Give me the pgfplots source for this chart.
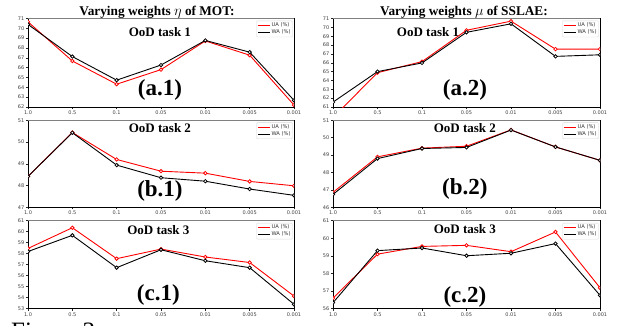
\documentclass[border=0pt]{standalone}
\usepackage{pgfplots}
\pgfplotsset{compat=1.18}
\usepackage{fontspec}
\setmainfont{Liberation Serif}
\newfontfamily\dejavu{DejaVu Sans}

\pgfplotsset{
  sub/.style={
    scale only axis,
    xmin=0, xmax=6,
    xtick={0,1,2,3,4,5,6},
    xticklabels={1.0,0.5,0.1,0.05,0.01,0.005,0.001},
    ytick distance=1,
    tick align=outside,
    major tick length=2pt,
    xtick pos=bottom, ytick pos=left,
    tick style={black!85, line width=0.5pt},
    tick label style={font=\dejavu\fontsize{5}{5}\selectfont, text=black!75},
    xticklabel style={inner sep=1.5pt},
    yticklabel style={inner sep=1.5pt},
    /pgf/number format/assume math mode=true,
    axis line style={line width=0.8pt, black},
    clip marker paths=true,
    legend style={at={(0.995,0.975)}, anchor=north east, draw=black!15, fill=white,
      rounded corners=1pt, font=\dejavu\fontsize{5.2}{6}\selectfont, inner sep=1.2pt,
      nodes={inner sep=0.7pt}, row sep=0pt, text=black!80},
    legend cell align=left,
    legend image code/.code={\draw[#1, line width=1.1pt] (0pt,0pt) -- (12pt,0pt);},
    every axis plot/.append style={line width=0.9pt, mark=*, mark size=1.7pt, mark options={fill=white, solid, line width=0.8pt}},
  },
}
\tikzset{
  ua/.style={red},
  wa/.style={black},
  lbl/.style={font=\bfseries\fontsize{13}{13}\selectfont},
  big/.style={font=\bfseries\fontsize{23}{23}\selectfont},
}

\begin{document}
\begin{tikzpicture}[x=1pt,y=1pt]
\path[use as bounding box] (0,0) rectangle (620,-325);

% (a.1)
\begin{axis}[sub, at={(28pt,-107pt)}, anchor=south west, width=266pt, height=88.5pt, ymin=62, ymax=71]
\addplot[ua] coordinates {(0,70.66) (1,66.68) (2,64.32) (3,65.80) (4,68.72) (5,67.27) (6,62.20)};
\addplot[wa] coordinates {(0,70.40) (1,67.13) (2,64.73) (3,66.27) (4,68.77) (5,67.58) (6,62.68)};
\legend{UA (\%),WA (\%)}
\draw[black!50, line width=0.9pt] (rel axis cs:0,1) -- (rel axis cs:1,1);
\node[lbl] at (rel axis cs:0.496,0.847) {OoD task 1};
\node[big] at (rel axis cs:0.496,0.19) {(a.1)};
\end{axis}

% (a.2)
\begin{axis}[sub, at={(333pt,-107pt)}, anchor=south west, width=267pt, height=88.5pt, ymin=61, ymax=71]
\addplot[ua] coordinates {(0,59.8) (1,64.88) (2,66.13) (3,69.67) (4,70.70) (5,67.54) (6,67.54)};
\addplot[wa] coordinates {(0,61.55) (1,65.00) (2,65.98) (3,69.44) (4,70.40) (5,66.72) (6,66.90)};
\legend{UA (\%),WA (\%)}
\draw[black!50, line width=0.9pt] (rel axis cs:0,1) -- (rel axis cs:1,1);
\node[lbl] at (rel axis cs:0.356,0.847) {OoD task 1};
\node[big] at (rel axis cs:0.494,0.19) {(a.2)};
\end{axis}

% (b.1)
\begin{axis}[sub, at={(28pt,-207.3pt)}, anchor=south west, width=266pt, height=87pt, ymin=47, ymax=51]
\addplot[ua] coordinates {(0,48.42) (1,50.44) (2,49.20) (3,48.66) (4,48.57) (5,48.19) (6,47.99)};
\addplot[wa] coordinates {(0,48.42) (1,50.43) (2,48.94) (3,48.36) (4,48.20) (5,47.84) (6,47.55)};
\legend{UA (\%),WA (\%)}
\draw[black!50, line width=0.9pt] (rel axis cs:0,1) -- (rel axis cs:1,1);
\node[lbl] at (rel axis cs:0.496,0.91) {OoD task 2};
\node[big] at (rel axis cs:0.496,0.19) {(b.1)};
\end{axis}

% (b.2)
\begin{axis}[sub, at={(333pt,-207.3pt)}, anchor=south west, width=267pt, height=87pt, ymin=46, ymax=51]
\addplot[ua] coordinates {(0,46.86) (1,48.90) (2,49.40) (3,49.51) (4,50.45) (5,49.47) (6,48.70)};
\addplot[wa] coordinates {(0,46.74) (1,48.80) (2,49.38) (3,49.44) (4,50.44) (5,49.47) (6,48.70)};
\legend{UA (\%),WA (\%)}
\draw[black!50, line width=0.9pt] (rel axis cs:0,1) -- (rel axis cs:1,1);
\node[lbl] at (rel axis cs:0.494,0.91) {OoD task 2};
\node[big] at (rel axis cs:0.494,0.21) {(b.2)};
\end{axis}

% (c.1)
\begin{axis}[sub, at={(28pt,-308.7pt)}, anchor=south west, width=266pt, height=88pt, ymin=53, ymax=61]
\addplot[ua] coordinates {(0,58.48) (1,60.36) (2,57.55) (3,58.42) (4,57.70) (5,57.20) (6,54.15)};
\addplot[wa] coordinates {(0,58.20) (1,59.67) (2,56.73) (3,58.36) (4,57.36) (5,56.73) (6,53.40)};
\legend{UA (\%),WA (\%)}
\draw[black!50, line width=0.9pt] (rel axis cs:0,1) -- (rel axis cs:1,1);
\node[lbl] at (rel axis cs:0.49,0.894) {OoD task 3};
\node[big] at (rel axis cs:0.49,0.156) {(c.1)};
\end{axis}

% (c.2)
\begin{axis}[sub, at={(333pt,-308.7pt)}, anchor=south west, width=267pt, height=88pt, ymin=56, ymax=61]
\addplot[ua] coordinates {(0,56.60) (1,59.10) (2,59.54) (3,59.60) (4,59.24) (5,60.36) (6,57.19)};
\addplot[wa] coordinates {(0,56.34) (1,59.30) (2,59.45) (3,59.01) (4,59.15) (5,59.70) (6,56.76)};
\legend{UA (\%),WA (\%)}
\draw[black!50, line width=0.9pt] (rel axis cs:0,1) -- (rel axis cs:1,1);
\node[lbl] at (rel axis cs:0.494,0.905) {OoD task 3};
\node[big] at (rel axis cs:0.494,0.133) {(c.2)};
\end{axis}

\node[anchor=base, font=\bfseries\fontsize{13.3}{13.3}\selectfont] at (157,-15.5) {Varying weights $\eta$ of MOT:};
\node[anchor=base, font=\bfseries\fontsize{13.3}{13.3}\selectfont] at (464,-15.5) {Varying weights $\mu$ of SSLAE:};
\node[anchor=base west, font=\fontsize{25}{25}\selectfont, inner sep=0pt] at (11,-339.5) {Figure 3:};
\end{tikzpicture}
\end{document}
